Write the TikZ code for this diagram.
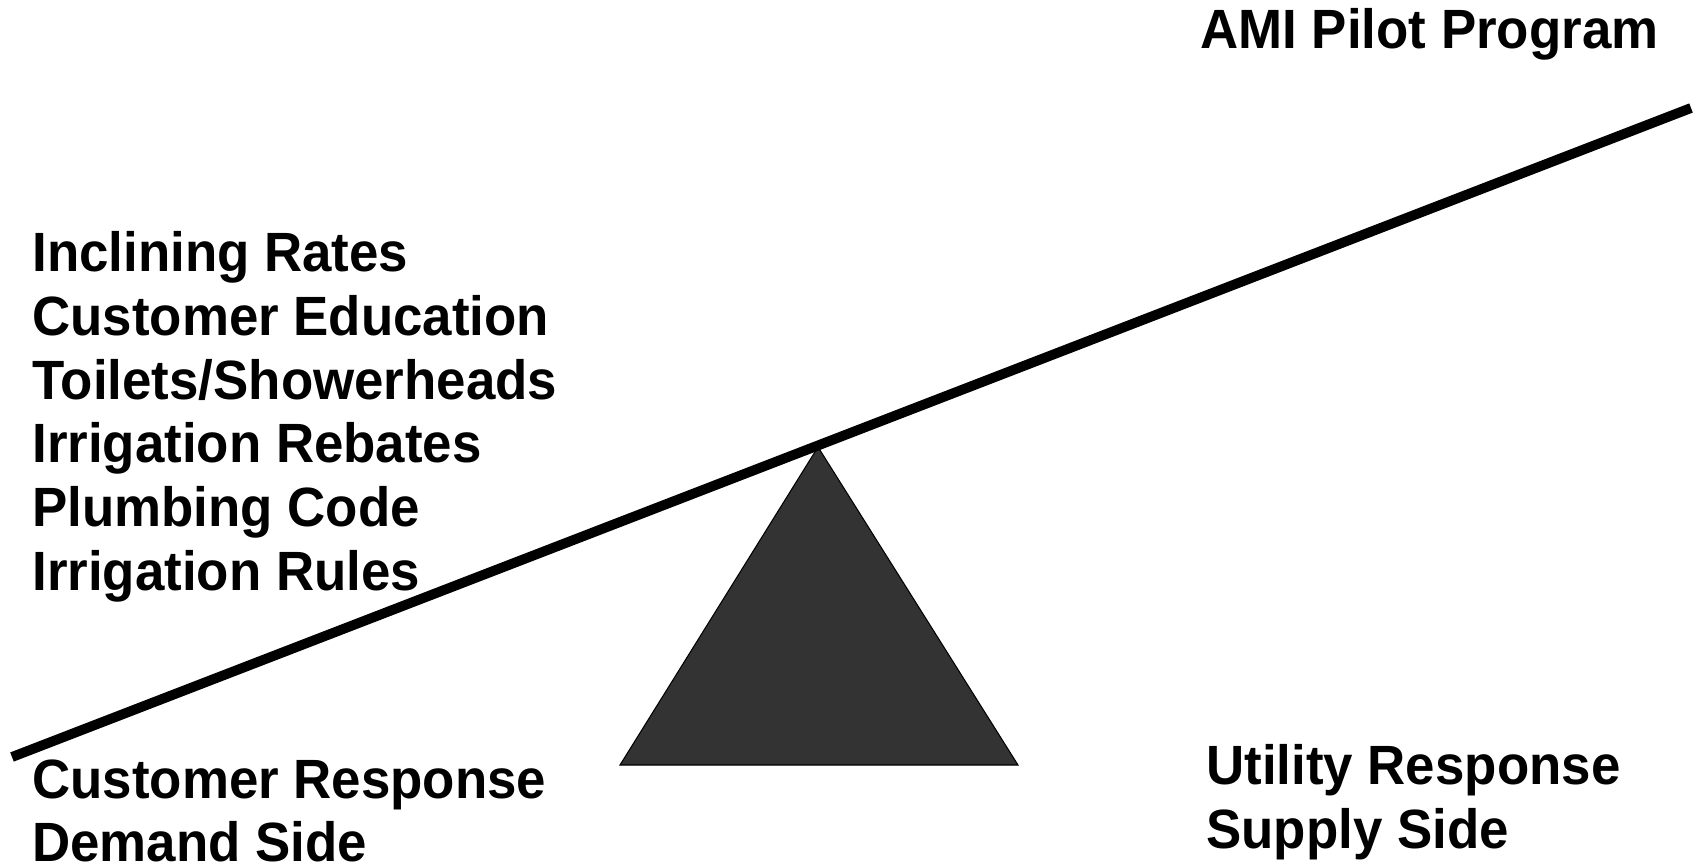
\documentclass[tikz,border=0pt]{standalone}
\usepackage{fontspec}
\setmainfont[FakeStretch=0.955]{Liberation Sans}
\usepackage{tikz}

\begin{document}
\begin{tikzpicture}[x=0.02cm, y=-0.02cm,
    texte/.style={anchor=north west, inner sep=0pt, align=left,
        font=\fontsize{31.5}{36.3}\selectfont\bfseries}]
            % Cadre
            \useasboundingbox (0,0) rectangle (1699,866);

            % Pivot
            \coordinate (sommet) at (818,447);
            \coordinate (baseG) at (620,765);
            \coordinate (baseD) at (1018,765);
            \filldraw[fill=black!80, draw=black, line width=0.6pt] (sommet) -- (baseD) -- (baseG) -- cycle;

            % Fleau de la balance
            \coordinate (gauche) at (12,757);
            \coordinate (droite) at (1691,108);
            \draw[line width=5.6pt] (gauche) -- (droite);

            % Textes
            \node[texte] (ami) at (1200,8) {AMI Pilot Program};
            \node[texte] (mesures) at (32,231) {Inclining Rates\\Customer Education\\Toilets/Showerheads\\Irrigation Rebates\\Plumbing Code\\Irrigation Rules};
            \node[texte] (client) at (32,759) {Customer Response\\Demand Side};
            \node[texte] (utilite) at (1206,744) {Utility Response\\Supply Side};
        \end{tikzpicture}
\end{document}
